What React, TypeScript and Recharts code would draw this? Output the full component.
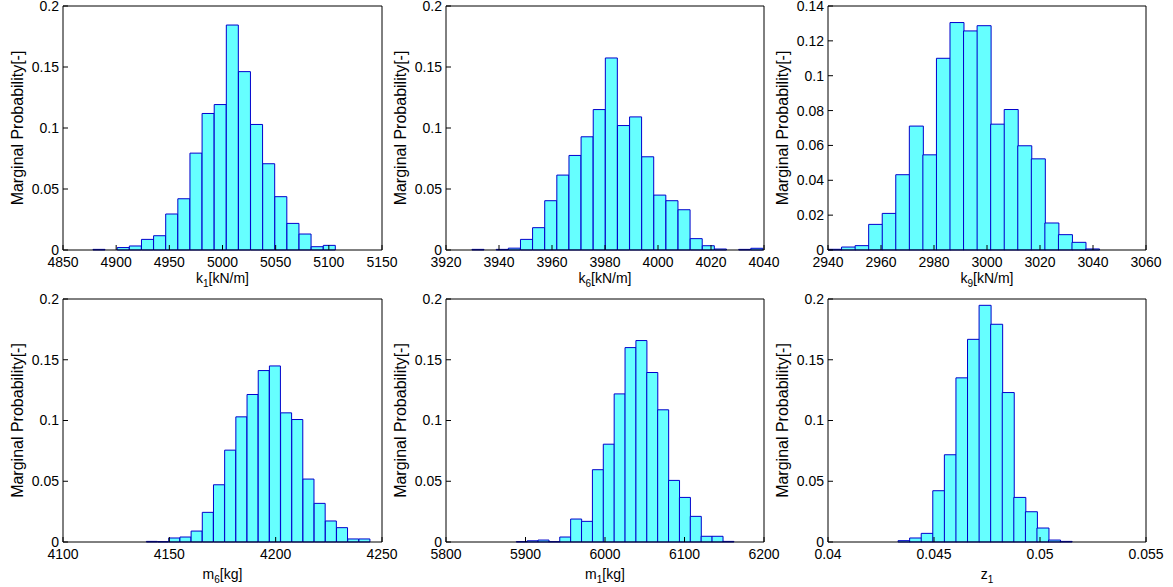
import React from "react";
import { BarChart, Bar, XAxis, YAxis } from "recharts";

// bin centres and marginal probabilities
const k1Bins = [4883.9, 4895.3, 4906.7, 4918.1, 4929.5, 4940.9, 4952.3, 4963.7, 4975.1, 4986.5, 4997.9, 5009.3, 5020.7, 5032.1, 5043.5, 5054.9, 5066.3, 5077.7, 5089.1, 5100.5];
const k1Probs = [0.0005, 0, 0.002, 0.0033, 0.0087, 0.0117, 0.0295, 0.042, 0.0794, 0.1119, 0.1192, 0.1844, 0.1462, 0.1029, 0.0707, 0.0437, 0.0218, 0.0131, 0.0027, 0.0038];

const k6Bins = [3932.09, 3936.66, 3941.24, 3945.81, 3950.39, 3954.96, 3959.54, 3964.11, 3968.69, 3973.26, 3977.84, 3982.41, 3986.99, 3991.56, 3996.14, 4000.71, 4005.29, 4009.86, 4014.44, 4019.01, 4023.59, 4028.16, 4032.74, 4037.31];
const k6Probs = [0.0005, 0, 0.0005, 0.0015, 0.0087, 0.0183, 0.0404, 0.0614, 0.0775, 0.0928, 0.1151, 0.1574, 0.102, 0.1091, 0.0764, 0.045, 0.0404, 0.033, 0.0093, 0.0035, 0.0008, 0, 0.0005, 0.0014];

const k9Bins = [2942.56, 2947.67, 2952.79, 2957.9, 2963.02, 2968.13, 2973.25, 2978.36, 2983.48, 2988.59, 2993.71, 2998.82, 3003.94, 3009.05, 3014.17, 3019.28, 3024.4, 3029.51, 3034.63, 3039.74];
const k9Probs = [0.0004, 0.0017, 0.0025, 0.0147, 0.021, 0.0432, 0.0711, 0.0546, 0.11, 0.1305, 0.1257, 0.1287, 0.0722, 0.0806, 0.0598, 0.0523, 0.0155, 0.0088, 0.0044, 0.0006];

const m6Bins = [4141.83, 4147.09, 4152.35, 4157.61, 4162.87, 4168.13, 4173.39, 4178.65, 4183.91, 4189.17, 4194.43, 4199.69, 4204.95, 4210.21, 4215.47, 4220.73, 4225.99, 4231.25, 4236.51, 4241.77];
const m6Probs = [0.0005, 0.0003, 0.0033, 0.0041, 0.009, 0.0244, 0.0471, 0.0756, 0.103, 0.1214, 0.1411, 0.1449, 0.1063, 0.1008, 0.0518, 0.0318, 0.0173, 0.0118, 0.0025, 0.0025];

const m1Bins = [5895.24, 5908.92, 5922.6, 5936.28, 5949.96, 5963.64, 5977.32, 5991.0, 6004.68, 6018.36, 6032.04, 6045.72, 6059.4, 6073.08, 6086.76, 6100.44, 6114.12, 6127.8, 6141.48, 6155.16];
const m1Probs = [0.0003, 0.001, 0.0016, 0.0003, 0.0041, 0.0189, 0.017, 0.0595, 0.0805, 0.1219, 0.16, 0.1658, 0.1395, 0.1088, 0.0507, 0.0367, 0.0211, 0.0047, 0.0047, 0.0005];

const z1Bins = [0.043578, 0.044124, 0.04467, 0.045216, 0.045762, 0.046308, 0.046854, 0.0474, 0.047946, 0.048492, 0.049038, 0.049584, 0.05013, 0.050676, 0.051222];
const z1Probs = [0.0011, 0.0033, 0.0071, 0.0422, 0.0718, 0.1351, 0.1668, 0.1948, 0.1792, 0.123, 0.0367, 0.0249, 0.0115, 0.0016, 0.0005];

// tick labels
const k1Ticks = [4850, 4900, 4950, 5000, 5050, 5100, 5150];
const k6Ticks = [3920, 3940, 3960, 3980, 4000, 4020, 4040];
const k9Ticks = [2940, 2960, 2980, 3000, 3020, 3040, 3060];
const m6Ticks = [4100, 4150, 4200, 4250];
const m1Ticks = [5800, 5900, 6000, 6100, 6200];
const z1Ticks = [0.04, 0.045, 0.05, 0.055];
const probTicks = [0, 0.05, 0.1, 0.15, 0.2];
const probTicksK9 = [0, 0.02, 0.04, 0.06, 0.08, 0.1, 0.12, 0.14];

const FONT = '"Liberation Sans", Arial, Helvetica, sans-serif';
const FS = 14;
const FILL = "#66FFFF";
const EDGE = "#0000CC";

type PanelProps = {
  left: number;
  top: number;
  plotW: number;
  plotH: number;
  bins: number[];
  probs: number[];
  xTicks: number[];
  yTicks: number[];
  main: string;
  sub: string;
  rest: string;
  titleDy: number;
};

const XTitle = (p: any) => {
  const vb = p.viewBox || {};
  return (
    <text
      x={vb.x + vb.width / 2}
      y={vb.y + p.dy}
      textAnchor="middle"
      fontSize={FS}
      fontFamily={FONT}
      fill="#000"
    >
      {p.main}
      <tspan dy={4} fontSize={FS - 4}>{p.sub}</tspan>
      <tspan dy={-4}>{p.rest}</tspan>
    </text>
  );
};

const YTitle = (p: any) => {
  const vb = p.viewBox || {};
  const x = vb.x + 17;
  const y = vb.y + vb.height / 2;
  return (
    <text
      x={x}
      y={y}
      transform={`rotate(-90, ${x}, ${y})`}
      textAnchor="middle"
      dominantBaseline="central"
      fontSize={16}
      fontFamily={FONT}
      fill="#000"
    >
      Marginal Probability[-]
    </text>
  );
};

const Histogram = ({ left, top, plotW, plotH, bins, probs, xTicks, yTicks, main, sub, rest, titleDy }: PanelProps) => {
  const data = bins.map((x, i) => ({ x, p: probs[i] }));
  const xDomain = [xTicks[0], xTicks[xTicks.length - 1]];
  const yDomain = [yTicks[0], yTicks[yTicks.length - 1]];
  const tickStyle = { fill: "#000", fontSize: FS, fontFamily: FONT };
  return (
    <div style={{ position: "absolute", left: left - 63, top: top - 6 }}>
      <BarChart
        width={63 + plotW + 1 + 23}
        height={5 + 1 + plotH + 45}
        data={data}
        margin={{ top: 5, right: 23, bottom: 0, left: 0 }}
        barCategoryGap={0}
        barGap={0}
      >
        <XAxis
          dataKey="x"
          type="number"
          domain={xDomain}
          ticks={xTicks}
          interval={0}
          height={45}
          tickSize={-5}
          tickMargin={12}
          tick={tickStyle}
          axisLine={{ stroke: "#000" }}
          tickLine={{ stroke: "#000" }}
          label={(lp: any) => <XTitle {...lp} main={main} sub={sub} rest={rest} dy={titleDy} />}
        />
        <XAxis
          xAxisId="top"
          orientation="top"
          type="number"
          domain={xDomain}
          ticks={xTicks}
          interval={0}
          height={1}
          tickSize={-5}
          tick={false}
          axisLine={{ stroke: "#000" }}
          tickLine={{ stroke: "#000" }}
        />
        <YAxis
          type="number"
          domain={yDomain}
          ticks={yTicks}
          interval={0}
          width={63}
          tickSize={-5}
          tickMargin={9}
          tick={tickStyle}
          axisLine={{ stroke: "#000" }}
          tickLine={{ stroke: "#000" }}
          label={(lp: any) => <YTitle {...lp} />}
        />
        <YAxis
          yAxisId="right"
          orientation="right"
          type="number"
          domain={yDomain}
          ticks={yTicks}
          interval={0}
          width={1}
          tickSize={-5}
          tick={false}
          axisLine={{ stroke: "#000" }}
          tickLine={{ stroke: "#000" }}
        />
        <Bar dataKey="p" fill={FILL} stroke={EDGE} strokeWidth={1} isAnimationActive={false} />
        {/* invisible copy so the top/right frame axes get a scale */}
        <Bar dataKey="p" xAxisId="top" yAxisId="right" fill="none" stroke="none" isAnimationActive={false} />
      </BarChart>
    </div>
  );
};

export default function App() {
  return (
    <div style={{ position: "absolute", left: 0, top: 0, width: 1173, height: 587, background: "#fff" }}>
      <Histogram left={63} top={6} plotW={319} plotH={244} bins={k1Bins} probs={k1Probs} xTicks={k1Ticks} yTicks={probTicks} main="k" sub="1" rest="[kN/m]" titleDy={33} />
      <Histogram left={446} top={6} plotW={318} plotH={244} bins={k6Bins} probs={k6Probs} xTicks={k6Ticks} yTicks={probTicks} main="k" sub="6" rest="[kN/m]" titleDy={33} />
      <Histogram left={828} top={6} plotW={318} plotH={244} bins={k9Bins} probs={k9Probs} xTicks={k9Ticks} yTicks={probTicksK9} main="k" sub="9" rest="[kN/m]" titleDy={33} />
      <Histogram left={63} top={299} plotW={319} plotH={243} bins={m6Bins} probs={m6Probs} xTicks={m6Ticks} yTicks={probTicks} main="m" sub="6" rest="[kg]" titleDy={37} />
      <Histogram left={446} top={299} plotW={318} plotH={243} bins={m1Bins} probs={m1Probs} xTicks={m1Ticks} yTicks={probTicks} main="m" sub="1" rest="[kg]" titleDy={37} />
      <Histogram left={828} top={299} plotW={318} plotH={243} bins={z1Bins} probs={z1Probs} xTicks={z1Ticks} yTicks={probTicks} main="z" sub="1" rest="" titleDy={37} />
    </div>
  );
}
